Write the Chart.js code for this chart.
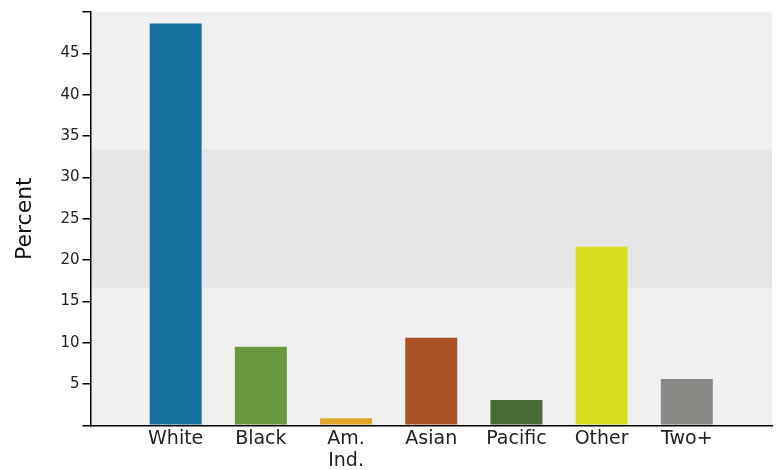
<!DOCTYPE html>
<html>
<head>
<meta charset="utf-8">
<script src="https://cdn.jsdelivr.net/npm/chart.js@4"></script>
<style>
  html, body { margin: 0; padding: 0; background: #ffffff; }
  #wrap { width: 778px; height: 470px; }
</style>
</head>
<body>
<div id="wrap"><canvas id="chart" width="778" height="470"></canvas></div>
<script>
// categories (blank slots at both ends, as in the original)
const categories = ['', 'White', 'Black', ['Am.', 'Ind.'], 'Asian', 'Pacific', 'Other', 'Two+', ''];
const percents = [null, 48.6, 9.5, 0.85, 10.6, 3.05, 21.6, 5.6, null];
const barColors = ['#000', '#16709e', '#6a983f', '#dea728', '#ab5227', '#486b33', '#d9df1f', '#888884', '#000'];
const yTicks = [0, 5, 10, 15, 20, 25, 30, 35, 40, 45, 50];
const bandRange = [50 / 3, 100 / 3];

const FONT = '"DejaVu Sans", Verdana, sans-serif';

// plot background with the middle band
const backgroundPlugin = {
  id: 'plotBackground',
  beforeDraw: (chart) => {
    const { ctx, chartArea, scales } = chart;
    ctx.save();
    ctx.fillStyle = '#f0f0f0';
    ctx.fillRect(chartArea.left, chartArea.top, chartArea.right - chartArea.left, chartArea.bottom - chartArea.top);
    const yTop = scales.y.getPixelForValue(bandRange[1]);
    const yBot = scales.y.getPixelForValue(bandRange[0]);
    ctx.fillStyle = '#e6e6e6';
    ctx.fillRect(chartArea.left, yTop, chartArea.right - chartArea.left, yBot - yTop);
    ctx.restore();
  }
};

new Chart(document.getElementById('chart').getContext('2d'), {
  type: 'bar',
  data: {
    labels: categories,
    datasets: [{
      data: percents,
      backgroundColor: barColors,
      borderWidth: 0,
      barPercentage: 0.61,
      categoryPercentage: 1.0
    }]
  },
  options: {
    responsive: false,
    animation: false,
    layout: { padding: { top: 6, right: 6, left: 12, bottom: -5 } },
    plugins: {
      legend: { display: false },
      tooltip: { enabled: false }
    },
    scales: {
      x: {
        offset: false,
        grid: { display: false, drawTicks: false },
        border: { display: true, color: '#000', width: 1.5 },
        ticks: {
          color: '#222',
          font: { family: FONT, size: 19, lineHeight: 1.15 },
          padding: 3,
          maxRotation: 0,
          autoSkip: false
        }
      },
      y: {
        min: 0,
        max: 50,
        afterBuildTicks: (axis) => { axis.ticks = yTicks.map(v => ({ value: v })); },
        grid: {
          drawOnChartArea: false,
          drawTicks: true,
          tickLength: 8,
          color: '#000',
          lineWidth: 1.5
        },
        border: { display: true, color: '#000', width: 1.5 },
        ticks: {
          color: '#222',
          font: { family: FONT, size: 15 },
          padding: 3,
          callback: (v) => (v === 0 || v === 50 ? '' : String(v))
        },
        title: {
          display: true,
          text: 'Percent',
          color: '#111',
          font: { family: FONT, size: 22 },
          padding: { top: 0, bottom: 19 }
        }
      }
    }
  },
  plugins: [backgroundPlugin]
});
</script>
</body>
</html>
